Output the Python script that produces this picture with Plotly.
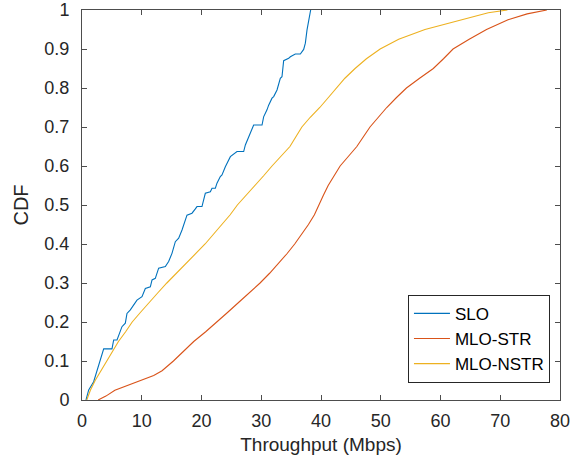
import plotly.graph_objects as go

# SLO empirical CDF (throughput Mbps, CDF)
slo_x = [0.67, 1.12, 1.95, 2.51, 3.63, 5.02, 5.30, 5.86, 6.69, 7.25, 7.53, 8.09, 8.65, 9.2,
         10.04, 10.6, 11.44, 11.72, 12.27, 12.83, 13.95, 14.5, 15.06, 15.62, 16.18, 16.74,
         17.57, 18.41, 18.97, 19.25, 20.08, 20.64, 21.48, 21.76, 22.32, 22.59, 23.15, 23.43,
         23.99, 24.55, 24.83, 25.94, 27.06, 27.34, 27.89, 28.73, 30.13, 30.40, 30.96, 31.24,
         31.80, 32.08, 32.64, 33.19, 33.47, 33.75, 34.59, 34.87, 35.70, 36.54, 37.10, 37.38,
         37.66, 37.94, 38.27]
slo_cdf = [0.0, 0.026, 0.047, 0.077, 0.131, 0.131, 0.154, 0.154, 0.188, 0.197, 0.222, 0.231,
           0.244, 0.256, 0.265, 0.286, 0.290, 0.308, 0.312, 0.338, 0.342, 0.355, 0.376, 0.406,
           0.415, 0.436, 0.474, 0.479, 0.490, 0.496, 0.496, 0.530, 0.534, 0.543, 0.543, 0.556,
           0.573, 0.577, 0.598, 0.615, 0.624, 0.637, 0.637, 0.654, 0.675, 0.705, 0.705, 0.726,
           0.744, 0.756, 0.774, 0.778, 0.795, 0.825, 0.829, 0.870, 0.876, 0.880, 0.887, 0.887,
           0.899, 0.915, 0.949, 0.974, 1.0]

# MLO-STR
str_x = [2.7, 4.0, 5.5, 8.0, 10.0, 12.0, 13.4, 15.3, 17.0, 18.7, 20.7, 22.6, 24.4, 26.2, 28.0,
         29.8, 31.4, 32.9, 34.3, 35.6, 36.8, 37.9, 38.9, 39.6, 40.4, 41.2, 42.2, 43.2, 44.6,
         46.0, 47.1, 48.2, 49.6, 51.0, 52.6, 54.3, 56.5, 58.8, 60.5, 62.1, 64.8, 67.7, 71.3,
         74.5, 77.8]
str_cdf = [0.0, 0.01, 0.025, 0.04, 0.05, 0.063, 0.075, 0.1, 0.125, 0.15, 0.175, 0.2, 0.225,
           0.25, 0.275, 0.3, 0.325, 0.35, 0.375, 0.4, 0.425, 0.45, 0.475, 0.5, 0.525, 0.55,
           0.575, 0.6, 0.625, 0.65, 0.675, 0.7, 0.725, 0.75, 0.775, 0.8, 0.825, 0.85, 0.875,
           0.9, 0.925, 0.95, 0.975, 0.99, 1.0]

# MLO-NSTR
nstr_x = [0.8, 1.4, 2.2, 3.2, 4.2, 5.1, 6.1, 7.3, 8.4, 9.8, 11.2, 12.7, 14.2, 15.8, 17.3, 19.0,
          20.6, 22.0, 23.4, 24.8, 26.0, 27.5, 29.0, 30.4, 31.8, 33.3, 34.8, 35.8, 36.8, 38.2,
          39.8, 41.2, 42.6, 44.0, 45.7, 47.6, 49.9, 53.0, 57.4, 63.8, 68.0, 71.2]
nstr_cdf = [0.0, 0.025, 0.05, 0.075, 0.1, 0.125, 0.15, 0.175, 0.2, 0.225, 0.25, 0.275, 0.3,
            0.325, 0.35, 0.375, 0.4, 0.425, 0.45, 0.475, 0.5, 0.525, 0.55, 0.575, 0.6, 0.625,
            0.65, 0.675, 0.7, 0.725, 0.75, 0.775, 0.8, 0.825, 0.85, 0.875, 0.9, 0.925, 0.95,
            0.975, 0.993, 1.0]

x_ticks = [0, 10, 20, 30, 40, 50, 60, 70, 80]
y_ticks = [0, 0.1, 0.2, 0.3, 0.4, 0.5, 0.6, 0.7, 0.8, 0.9, 1]
y_tick_labels = ["0", "0.1", "0.2", "0.3", "0.4", "0.5", "0.6", "0.7", "0.8", "0.9", "1"]

FONT = "Liberation Sans, Arial, Helvetica, sans-serif"
AX = "#262626"

fig = go.Figure()
fig.add_trace(go.Scatter(x=slo_x, y=slo_cdf, mode="lines", name="SLO",
                         line=dict(color="#0072BD", width=1.1)))
fig.add_trace(go.Scatter(x=str_x, y=str_cdf, mode="lines", name="MLO-STR",
                         line=dict(color="#D95319", width=1.1)))
fig.add_trace(go.Scatter(x=nstr_x, y=nstr_cdf, mode="lines", name="MLO-NSTR",
                         line=dict(color="#EDB120", width=1.1)))

axis_common = dict(showgrid=False, zeroline=False, showline=True, linecolor="#4d4d4d",
                   linewidth=1, mirror="ticks", ticks="inside", ticklen=5, tickcolor="#4d4d4d",
                   automargin=False,
                   tickfont=dict(family=FONT, size=18, color=AX))

fig.update_layout(
    width=582, height=461,
    margin=dict(l=82, r=22, t=10, b=61),
    paper_bgcolor="white", plot_bgcolor="white",
    font=dict(family=FONT, color=AX, size=18),
    xaxis=dict(range=[0, 80], tickvals=x_ticks, ticklabelstandoff=4,
               title=dict(text="Throughput (Mbps)", font=dict(family=FONT, size=19, color=AX), standoff=8),
               **axis_common),
    yaxis=dict(range=[0, 1], tickvals=y_ticks, ticktext=y_tick_labels, ticklabelstandoff=8,
               title=dict(text="CDF", font=dict(family=FONT, size=20, color=AX), standoff=10),
               **axis_common),
    legend=dict(x=0.979, y=0.044, xanchor="right", yanchor="bottom",
                bgcolor="white", bordercolor=AX, borderwidth=1,
                font=dict(family=FONT, size=17, color="black"),
                tracegroupgap=0, itemwidth=36),
    showlegend=True,
)

# remove the default 8px page margin so the figure sits at the window origin
fig.write_html("out.html",
               config={"displayModeBar": False},
               post_script="document.body.style.margin='0';document.body.style.overflow='hidden';")
